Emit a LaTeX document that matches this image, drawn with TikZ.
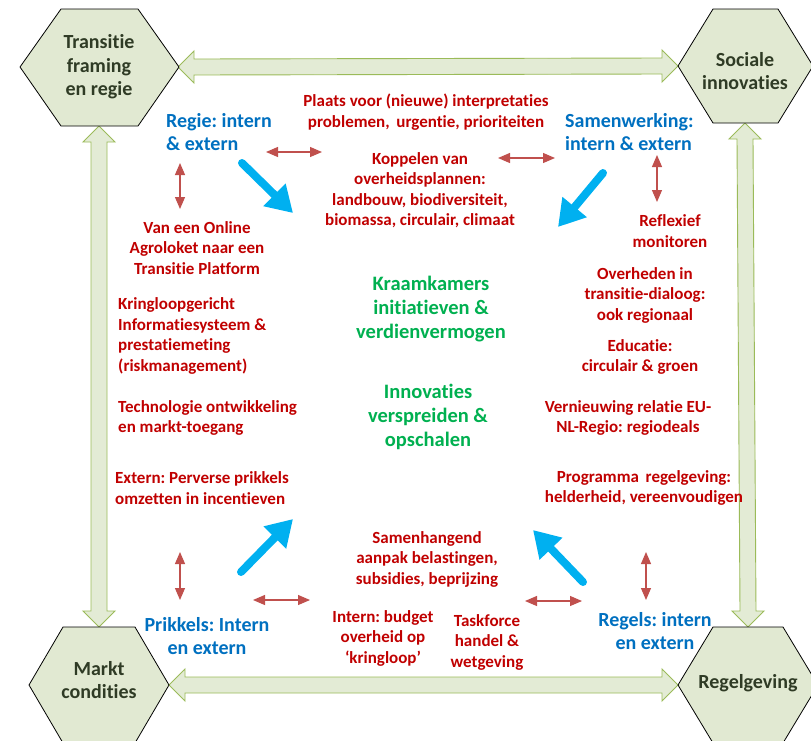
\documentclass[tikz,border=0pt]{standalone}
\usepackage{fontspec}
\setmainfont{Carlito}[Ligatures=NoCommon]
\frenchspacing
\usetikzlibrary{arrows.meta,calc}
\definecolor{txtred}{HTML}{C00000}
\definecolor{txtblue}{HTML}{0070C0}
\definecolor{txtgreen}{HTML}{00B050}
\definecolor{arrred}{HTML}{C0504D}
\definecolor{arrblue}{HTML}{00B0F0}
\definecolor{gfill}{HTML}{E3EBD5}
\definecolor{gline}{HTML}{9BBB59}
\definecolor{hexfill}{HTML}{E1E9D2}
\definecolor{hexdark}{HTML}{2F3B25}
\tikzset{
  redtxt/.style={text=txtred, font=\fontsize{17}{20.5}\selectfont\bfseries, align=center, inner sep=0pt},
  bluetxt/.style={text=txtblue, font=\fontsize{20}{23}\selectfont\bfseries, align=center, inner sep=0pt},
  greentxt/.style={text=txtgreen, font=\fontsize{20.5}{24}\selectfont\bfseries, align=center, inner sep=0pt},
  hextxt/.style={text=hexdark, font=\fontsize{20}{23.5}\selectfont\bfseries, align=center, inner sep=0pt},
  hexshape/.style={fill=hexfill, draw=black, line width=0.8pt, line join=miter},
  greenblock/.style={fill=gfill, draw=gline, line width=0.9pt, line join=miter},
  redarr/.style={draw=arrred, line width=1.2pt, {Triangle[length=12pt,width=10pt]}-{Triangle[length=12pt,width=10pt]}},
  bluearr/.style={draw=arrblue, line width=8pt, line cap=round, -{Triangle[length=26pt,width=30pt]}}
}
\begin{document}
\begin{tikzpicture}[x=1pt,y=-1pt]
\useasboundingbox (0,0) rectangle (811,740);
% hexagon centres
\coordinate (TLc) at (99,67);
\coordinate (TRc) at (745,66);
\coordinate (BLc) at (99,685);
\coordinate (BRc) at (748,685);
% vertices where block arrows meet
\coordinate (TLe) at ($(TLc)+(79,0)$);
\coordinate (TLs) at ($(TLc)+(0,59)$);
\coordinate (TRw) at ($(TRc)+(-67,0)$);
\coordinate (TRs) at ($(TRc)+(0,57)$);
\coordinate (BLn) at ($(BLc)+(0,-58)$);
\coordinate (BLe) at ($(BLc)+(70,0)$);
\coordinate (BRn) at ($(BRc)+(0,-58)$);
\coordinate (BRw) at ($(BRc)+(-70,0)$);
% green double block arrows
\draw[greenblock] (TLe) -- ++(16,-16) -- ++(0,8) -- ($(TRw)+(-16,-8)$) -- ++(0,-8) -- (TRw) -- ++(-16,16) -- ++(0,-8) -- ($(TLe)+(16,8)$) -- ++(0,8) -- cycle;
\draw[greenblock] (BLe) -- ++(16,-16) -- ++(0,8) -- ($(BRw)+(-16,-8)$) -- ++(0,-8) -- (BRw) -- ++(-16,16) -- ++(0,-8) -- ($(BLe)+(16,8)$) -- ++(0,8) -- cycle;
\draw[greenblock] (TLs) -- ++(16,16) -- ++(-8,0) -- ($(BLn)+(8,-16)$) -- ++(8,0) -- (BLn) -- ++(-16,-16) -- ++(8,0) -- ($(TLs)+(-8,16)$) -- ++(-8,0) -- cycle;
\draw[greenblock] (TRs) -- ++(16,16) -- ++(-8,0) -- ($(BRn)+(8,-16)$) -- ++(8,0) -- (BRn) -- ++(-16,-16) -- ++(8,0) -- ($(TRs)+(-8,16)$) -- ++(-8,0) -- cycle;
% hexagons
\draw[hexshape] ($(TLc)+(-79,0)$) -- ++(41,-58) -- ++(77,0) -- ++(41,58) -- ++(-41,59) -- ++(-77,0) -- cycle;
\draw[hexshape] ($(TRc)+(-67,0)$) -- ++(35,-57) -- ++(65,0) -- ++(35,57) -- ++(-35,57) -- ++(-65,0) -- cycle;
\draw[hexshape] ($(BLc)+(-70,0)$) -- ++(34,-58) -- ++(72,0) -- ++(34,58) -- ++(-34,58) -- ++(-72,0) -- cycle;
\draw[hexshape] ($(BRc)+(-70,0)$) -- ++(35,-58) -- ++(70,0) -- ++(35,58) -- ++(-35,58) -- ++(-70,0) -- cycle;
\node[hextxt] (TL) at (99,67) {Transitie\\framing\\en regie};
\node[hextxt] (TR) at (745,71) {Sociale\\innovaties};
\node[hextxt] (BL) at (99,680) {Markt\\condities};
\node[hextxt] (BR) at (748,683) {Regelgeving};
% blue labels
\node[bluetxt, align=left, anchor=west] (regie) at (166,132) {Regie: intern\\\& extern};
\node[bluetxt, align=left, anchor=west] (samen) at (565,132) {Samenwerking:\\intern \& extern};
\node[bluetxt] (prik) at (207,636) {Prikkels: Intern\\en extern};
\node[bluetxt] (regels) at (655,631) {Regels: intern\\en extern};
% green labels
\node[greentxt] (kraam) at (431,309) {Kraamkamers\\initiatieven \&\\verdienvermogen};
\node[greentxt] (innov) at (428,417) {Innovaties\\verspreiden \&\\opschalen};
% red labels
\node[redtxt] (plaats) at (426,112) {Plaats voor (nieuwe) interpretaties\\problemen,\, urgentie, prioriteiten};
\node[redtxt] (koppel) at (420,190) {Koppelen van\\overheidsplannen:\\landbouw, biodiversiteit,\\biomassa, circulair, climaat};
\node[redtxt] (reflex) at (670,231) {Reflexief\\monitoren};
\node[redtxt] (online) at (197,248) {Van een Online\\Agroloket naar een\\Transitie Platform};
\node[redtxt, align=left, anchor=west] (kring) at (118,336) {Kringloopgericht\\Informatiesysteem \&\\prestatiemeting\\(riskmanagement)};
\node[redtxt] (overh) at (645,295) {Overheden in\\transitie-dialoog:\\ook regionaal};
\node[redtxt] (educ) at (640,357) {Educatie:\\circulair \& groen};
\node[redtxt, align=left, anchor=west] (techn) at (118,418) {Technologie ontwikkeling\\en markt-toegang};
\node[redtxt] (vern) at (628,418) {Vernieuwing relatie EU-\\NL-Regio: regiodeals};
\node[redtxt, align=left, anchor=west] (extern) at (115,488) {Extern: Perverse prikkels\\omzetten in incentieven};
\node[redtxt] (progr) at (644,488) {Programma\, regelgeving:\\helderheid, vereenvoudigen};
\node[redtxt] (samenh) at (427,559) {Samenhangend\\aanpak belastingen,\\subsidies, beprijzing};
\node[redtxt] (budget) at (383,638) {Intern: budget\\overheid op\\‘kringloop’};
\node[redtxt] (task) at (487,642) {Taskforce\\handel \&\\wetgeving};
% red double arrows
\coordinate (r1a) at (266,152); \coordinate (r1b) at (322,152);
\coordinate (r2a) at (498,158); \coordinate (r2b) at (555,158);
\coordinate (r3a) at (180,163); \coordinate (r3b) at (180,209);
\coordinate (r4a) at (657,155); \coordinate (r4b) at (657,202);
\coordinate (r5a) at (180,552); \coordinate (r5b) at (180,600);
\coordinate (r6a) at (253,600); \coordinate (r6b) at (310,600);
\coordinate (r7a) at (646,552); \coordinate (r7b) at (646,600);
\coordinate (r8a) at (525,601); \coordinate (r8b) at (582,601);
\draw[redarr] (r1a) -- (r1b);
\draw[redarr] (r2a) -- (r2b);
\draw[redarr] (r3a) -- (r3b);
\draw[redarr] (r4a) -- (r4b);
\draw[redarr] (r5a) -- (r5b);
\draw[redarr] (r6a) -- (r6b);
\draw[redarr] (r7a) -- (r7b);
\draw[redarr] (r8a) -- (r8b);
% blue arrows
\coordinate (b1a) at (242,163); \coordinate (b1b) at (293,213);
\coordinate (b2a) at (603,173); \coordinate (b2b) at (558,227);
\coordinate (b3a) at (241,572); \coordinate (b3b) at (293,519);
\coordinate (b4a) at (583,582); \coordinate (b4b) at (533,530);
\draw[bluearr] (b1a) -- (b1b);
\draw[bluearr] (b2a) -- (b2b);
\draw[bluearr] (b3a) -- (b3b);
\draw[bluearr] (b4a) -- (b4b);
\end{tikzpicture}
\end{document}
